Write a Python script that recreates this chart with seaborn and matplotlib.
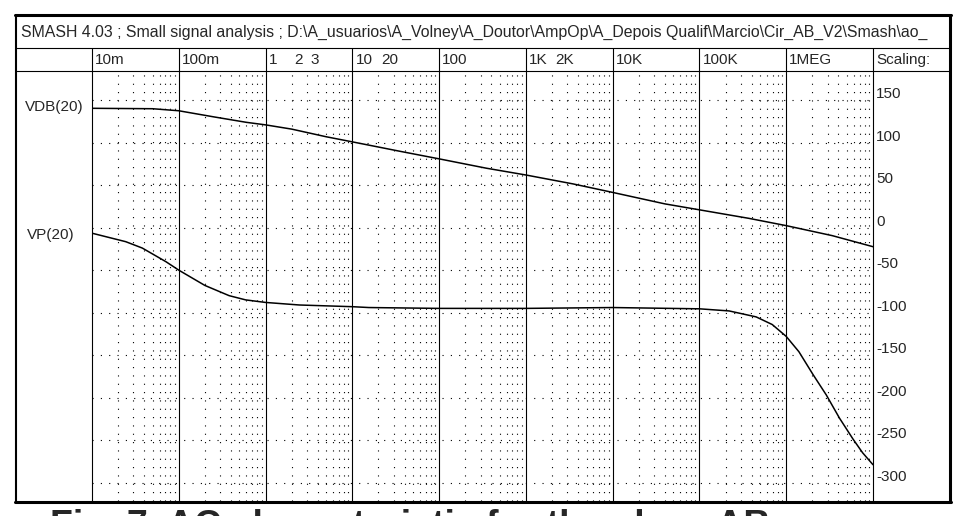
"""
SMASH small signal analysis screenshot: VDB(20) and VP(20) vs frequency.
"""

import matplotlib
matplotlib.use("Agg")
import matplotlib.pyplot as plt
import pandas as pd
import seaborn as sns

# Texts
TITLE = ("SMASH 4.03 ; Small signal analysis ; D:\\A_usuarios\\A_Volney\\A_Doutor"
         "\\AmpOp\\A_Depois Qualif\\Marcio\\Cir_AB_V2\\Smash\\ao_")
CAPTION = "Fig. 7. AC characteristic for the class AB"

# Magnitude curve VDB(20)
vdb_freq = [0.01, 0.05, 0.1, 0.25, 0.6, 1, 2, 5, 10, 35, 100, 350, 1e3,
            3.5e3, 1e4, 4e4, 1e5, 3.7e5, 1e6, 3.4e6, 1e7]
vdb_val = [140.5, 140, 137.6, 130.5, 124, 121, 116, 107, 101, 90, 81, 70, 62,
           51.5, 41.5, 28, 21, 11, 2.4, -9.4, -22.4]

# Phase curve VP(20)
vp_freq = [0.01, 0.0245, 0.038, 0.071, 0.1, 0.2, 0.38, 0.59, 1, 2.45, 10,
           15.5, 100, 1e3, 1e4, 1e5, 2.2e5, 4.5e5, 6.9e5, 1e6, 1.4e6, 2.04e6,
           2.9e6, 4.1e6, 5.9e6, 7.6e6, 1e7]
vp_val = [-6.5, -16.5, -24, -40, -50, -68, -80, -85, -88, -91, -93,
          -94, -95, -95, -94, -95.5, -98, -105, -114, -128, -146, -173,
          -197, -224, -249, -265, -279]

# Axis labels
freq_labels = ["10m", "100m", "1", "2", "3", "10", "20", "100", "1K", "2K",
               "10K", "100K", "1MEG", "Scaling:"]
freq_label_pos = [0.01, 0.1, 1, 2, 3, 10, 20, 100, 1e3, 2e3, 1e4, 1e5, 1e6, 1e7]
decades = [1e-2, 1e-1, 1, 10, 100, 1e3, 1e4, 1e5, 1e6, 1e7]
scale_ticks = [150, 100, 50, 0, -50, -100, -150, -200, -250, -300]

sns.set_theme(style="white")
plt.rcParams["font.family"] = ["Liberation Sans", "DejaVu Sans"]

W, H = 962, 516


def px_rect(x0, y0, x1, y1):
    """Pixel box (top-left origin) -> figure fraction rect."""
    return [x0 / W, 1 - y1 / H, (x1 - x0) / W, (y1 - y0) / H]


fig = plt.figure(figsize=(W / 100, H / 100), dpi=100, facecolor="white")

# Plot area
ax = fig.add_axes(px_rect(92, 71, 873, 501))
ax.set_xscale("log")

df = pd.concat([
    pd.DataFrame({"freq": vdb_freq, "value": vdb_val, "signal": "VDB(20)"}),
    pd.DataFrame({"freq": vp_freq, "value": vp_val, "signal": "VP(20)"}),
])
sns.lineplot(
    data=df,
    x="freq",
    y="value",
    hue="signal",
    palette=["black", "black"],
    linewidth=1.1,
    legend=False,
    ax=ax
)

ax.set_xlim(1e-2, 1e7)
ax.set_ylim(-321.7, 184.4)

# Grid: solid decades, dotted minor verticals and dotted horizontal rows
minor = [m * d for d in decades[:-1] for m in range(2, 10)]
ax.set_xticks(decades)
ax.set_xticks(minor, minor=True)
ax.set_yticks(scale_ticks)
dots = (0, (1, 6.5))
ax.grid(which="minor", axis="x", linestyle=dots, color="black", linewidth=0.8)
ax.grid(which="major", axis="y", linestyle=dots, color="black", linewidth=0.8)
ax.xaxis.grid(False, which="major")
ax.tick_params(which="both", length=0, labelbottom=False, labelleft=False)
for s in ax.spines.values():
    s.set_visible(False)
ax.set_xlabel("")
ax.set_ylabel("")

extend = 1 + 23 / 430
for d in decades:
    ax.axvline(d, ymin=0, ymax=extend, color="black", linewidth=0.8,
               clip_on=False)

# Top row frequency labels
for lbl, f in zip(freq_labels, freq_label_pos):
    ax.annotate(lbl, xy=(f, 1), xycoords=("data", "axes fraction"),
                xytext=(2.2, 8), textcoords="offset points",
                ha="left", va="center", fontsize=11)

# Right column scale labels
for v in scale_ticks:
    ax.annotate(str(v), xy=(1, v), xycoords=("axes fraction", "data"),
                xytext=(2.2, 4.3), textcoords="offset points",
                ha="left", va="center", fontsize=11)

# Overlay in pixel coordinates for the window frame and texts
ov = fig.add_axes([0, 0, 1, 1])
ov.set_xlim(0, W)
ov.set_ylim(H, 0)
ov.axis("off")

ov.plot([15, 951], [15, 15], color="black", linewidth=2.2)
ov.plot([16, 16], [15, 502], color="black", linewidth=1.5)
ov.plot([950, 950], [15, 502], color="black", linewidth=2.2)
ov.plot([15, 951], [501.5, 501.5], color="black", linewidth=2.2)
ov.plot([16, 950], [48, 48], color="black", linewidth=0.8)
ov.plot([16, 950], [71, 71], color="black", linewidth=0.8)

ov.text(21, 32, TITLE, ha="left", va="center", fontsize=11.45)
ov.text(54, 107, "VDB(20)", ha="center", va="center", fontsize=11)
ov.text(51, 235, "VP(20)", ha="center", va="center", fontsize=11)
ov.text(50, 537, CAPTION, ha="left", va="baseline", fontsize=27,
        fontweight="bold")

fig.savefig("out.png", dpi=100, facecolor="white")
plt.close(fig)
